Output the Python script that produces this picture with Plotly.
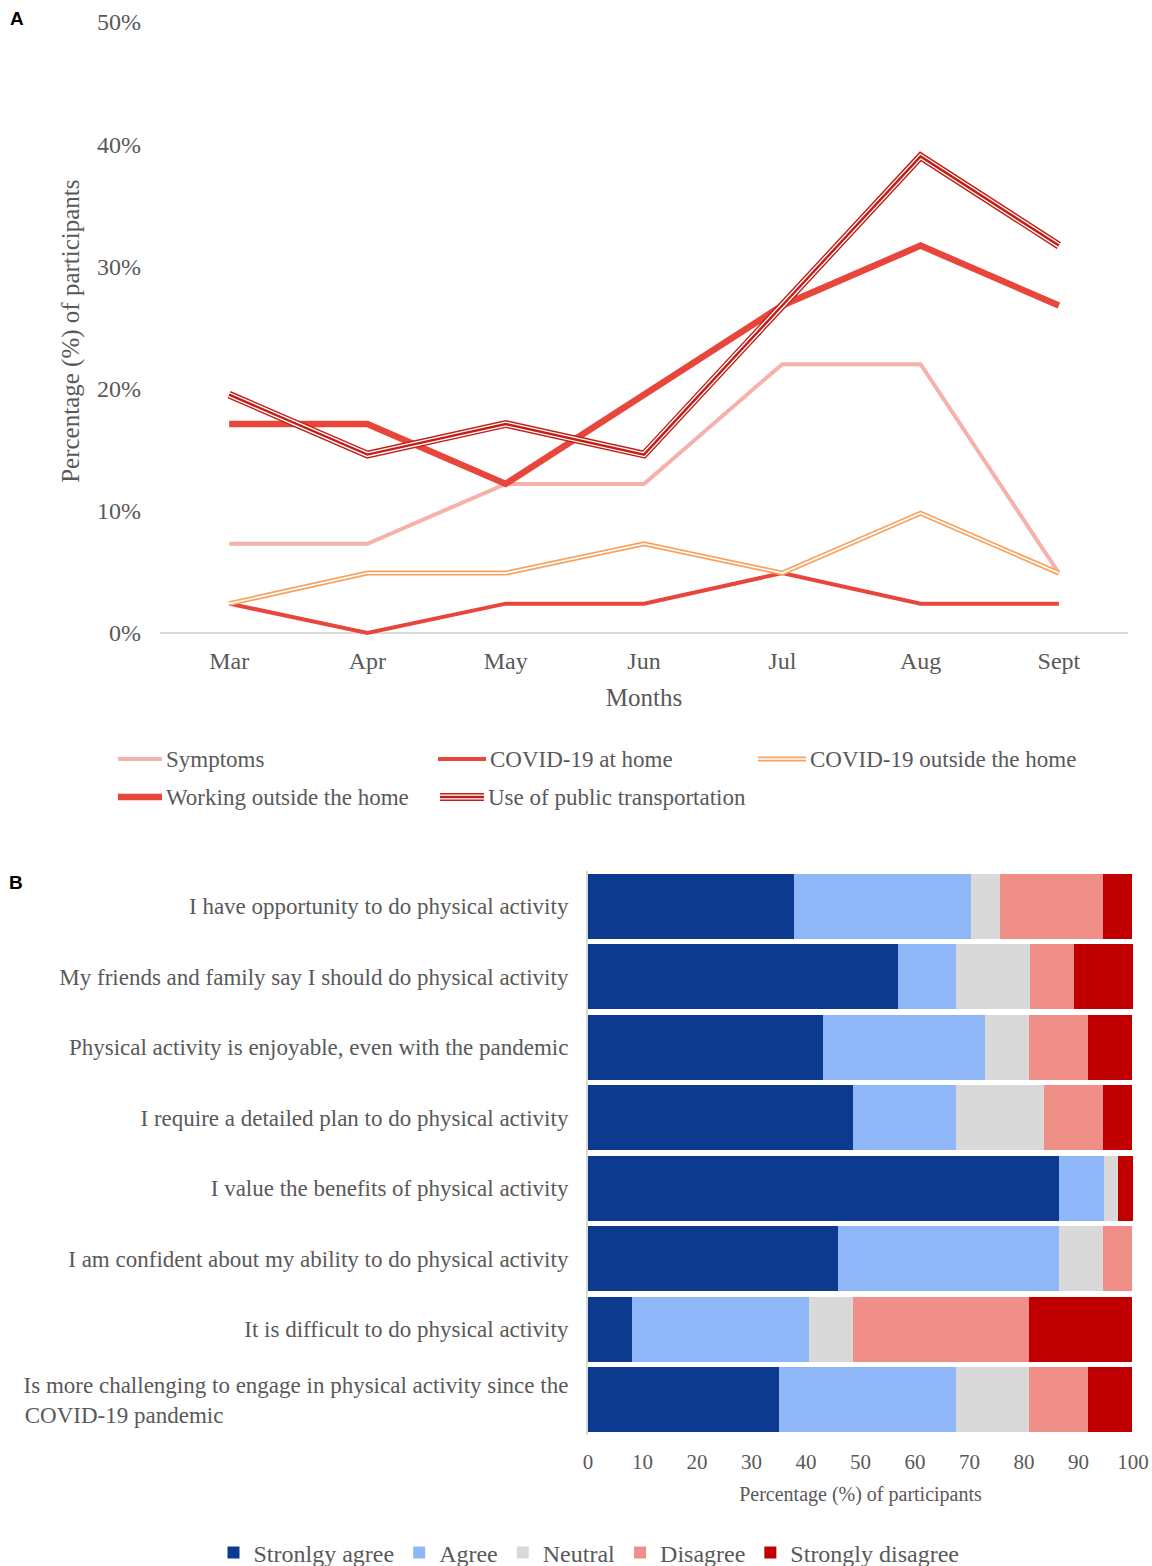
import plotly.graph_objects as go

# ---------------- Data: panel A ----------------
months = ["Mar", "Apr", "May", "Jun", "Jul", "Aug", "Sept"]
symptoms = [7.3, 7.3, 12.2, 12.2, 22.0, 22.0, 4.9]
covid_home = [2.4, 0.0, 2.4, 2.4, 4.9, 2.4, 2.4]
covid_outside = [2.4, 4.9, 4.9, 7.3, 4.9, 9.8, 4.9]
working_outside = [17.1, 17.1, 12.2, 19.5, 26.8, 31.7, 26.8]
public_transport = [19.5, 14.6, 17.1, 14.6, 26.8, 39.0, 31.7]
series_names = ["Symptoms", "COVID-19 at home", "COVID-19 outside the home",
                "Working outside the home", "Use of public transportation"]
y_ticks_a = [0, 10, 20, 30, 40, 50]
y_ticklabels_a = ["0%", "10%", "20%", "30%", "40%", "50%"]

# ---------------- Data: panel B ----------------
statements = [
    "I have opportunity to do physical activity",
    "My friends and family say I should do physical activity",
    "Physical activity is enjoyable, even with the pandemic",
    "I require a detailed plan to do physical activity",
    "I value the benefits of physical activity",
    "I am confident about my ability to do physical activity",
    "It is difficult to do physical activity",
    "Is more challenging to engage in physical activity since the<br>COVID-19 pandemic",
]
strongly_agree = [37.8, 56.8, 43.2, 48.6, 86.5, 45.9, 8.1, 35.1]
agree = [32.4, 10.8, 29.7, 18.9, 8.1, 40.5, 32.4, 32.4]
neutral = [5.4, 13.5, 8.1, 16.2, 2.7, 8.1, 8.1, 13.5]
disagree = [18.9, 8.1, 10.8, 10.8, 0.0, 5.4, 32.4, 10.8]
strongly_disagree = [5.4, 10.8, 8.1, 5.4, 2.7, 0.0, 18.9, 8.1]
response_names = ["Stronlgy agree", "Agree", "Neutral", "Disagree", "Strongly disagree"]
x_ticks_b = [0, 10, 20, 30, 40, 50, 60, 70, 80, 90, 100]

# ---------------- Styling ----------------
W, H = 1152, 1566
SERIF = "Liberation Serif, Times New Roman, serif"
GREY = "#595959"


def px(x):
    return x / W


def py(y):
    return 1 - y / H


line_styles = [
    [(4, "#F6B1AB")],
    [(4, "#E8453B")],
    [(5, "#F8A25F"), (1.6, "white")],
    [(6.5, "#E8453B")],
    [(7.8, "#C01F18"), (5.0, "white"), (2.4, "#C01F18")],
]
series_values = [symptoms, covid_home, covid_outside, working_outside, public_transport]
draw_order = [0, 1, 3, 2, 4]

fig = go.Figure()

for i in draw_order:
    for w, c in line_styles[i]:
        fig.add_trace(go.Scatter(
            x=months, y=series_values[i], mode="lines",
            line=dict(color=c, width=w), name=series_names[i],
            showlegend=False, hoverinfo="skip" if c == "white" else None,
            xaxis="x", yaxis="y",
        ))

bar_colors = ["#0B3A8F", "#8FB7F7", "#D9D9D9", "#F08F87", "#C00000"]
bar_values = [strongly_agree, agree, neutral, disagree, strongly_disagree]
for name, vals, col in zip(response_names, bar_values, bar_colors):
    fig.add_trace(go.Bar(
        x=vals, y=statements, orientation="h", name=name,
        marker=dict(color=col, line=dict(width=0)),
        xaxis="x2", yaxis="y2",
    ))

# padded tick text so the wrapped label reads left-aligned
pad = "\u00a0" * 60
ticktext_b = statements[:-1] + [
    "Is more challenging to engage in physical activity since the<br>COVID-19 pandemic" + pad
]

fig.update_layout(
    width=W, height=H,
    margin=dict(l=0, r=0, t=0, b=0, autoexpand=False),
    paper_bgcolor="white", plot_bgcolor="white",
    font=dict(family=SERIF, color=GREY, size=23),
    barmode="stack", bargap=0.08,
    xaxis=dict(
        domain=[px(160), px(1128)], anchor="y", automargin=False,
        type="category", range=[-0.5, 6.5],
        showgrid=False, zeroline=False, showline=False, ticks="",
        tickfont=dict(size=24, color=GREY), ticklabelstandoff=4,
        title=dict(text="Months", font=dict(size=25, color=GREY), standoff=15),
    ),
    yaxis=dict(
        domain=[py(640.3), py(22)], anchor="x", automargin=False,
        range=[-0.6, 50], tickvals=y_ticks_a, ticktext=y_ticklabels_a,
        showgrid=False, showline=False, ticks="",
        zeroline=True, zerolinecolor="#D9D9D9", zerolinewidth=2,
        tickfont=dict(size=24, color=GREY), ticklabelstandoff=18,
        title=dict(text="Percentage (%) of participants", font=dict(size=25, color=GREY), standoff=10),
    ),
    xaxis2=dict(
        domain=[px(588), px(1133)], anchor="y2", automargin=False,
        range=[0, 100], tickvals=x_ticks_b,
        showgrid=False, zeroline=False, showline=False, ticks="",
        tickfont=dict(size=21, color=GREY), ticklabelstandoff=12,
        title=dict(text="Percentage (%) of participants", font=dict(size=20, color=GREY), standoff=13),
    ),
    yaxis2=dict(
        domain=[py(1435), py(871)], anchor="x2", automargin=False,
        type="category", categoryorder="array", categoryarray=statements,
        autorange="reversed",
        tickvals=statements, ticktext=ticktext_b,
        showgrid=False, zeroline=False,
        showline=True, linecolor="#D9D9D9", linewidth=2, ticks="",
        tickfont=dict(size=23, color=GREY), ticklabelstandoff=13,
    ),
    legend=dict(
        orientation="h", x=px(589), xanchor="center", y=py(1553), yanchor="middle",
        font=dict(size=24, color=GREY, family=SERIF), traceorder="normal",
        itemwidth=30, bgcolor="rgba(0,0,0,0)",
    ),
)

# ---------------- Manual legend for panel A ----------------
legend_items = [
    (0, 118, 162, 759), (1, 438, 486, 759), (2, 758, 806, 759),
    (3, 118, 162, 797), (4, 440, 484, 797),
]
shapes = []
annotations = []
for idx, x0, x1, yy in legend_items:
    for w, c in line_styles[idx]:
        shapes.append(dict(
            type="line", xref="paper", yref="paper",
            x0=px(x0), x1=px(x1), y0=py(yy), y1=py(yy),
            line=dict(color=c, width=w),
        ))
    annotations.append(dict(
        x=px(x1 + 2), y=py(yy), xref="paper", yref="paper",
        text=series_names[idx], showarrow=False, xanchor="left", yanchor="middle",
        font=dict(size=23, color=GREY, family=SERIF),
    ))

annotations.append(dict(x=px(17), y=py(19), xref="paper", yref="paper", text="<b>A</b>",
                        showarrow=False, xanchor="center", yanchor="middle",
                        font=dict(size=19, color="black", family="Liberation Sans, Arial, sans-serif")))
annotations.append(dict(x=px(16), y=py(882), xref="paper", yref="paper", text="<b>B</b>",
                        showarrow=False, xanchor="center", yanchor="middle",
                        font=dict(size=19, color="black", family="Liberation Sans, Arial, sans-serif")))

fig.update_layout(shapes=shapes, annotations=annotations)

# remove the default 8px page margin so the figure fills the window exactly
fig.write_html(
    "out.html",
    config={"displayModeBar": False},
    post_script="document.body.style.margin='0';document.body.style.overflow='hidden';",
)
